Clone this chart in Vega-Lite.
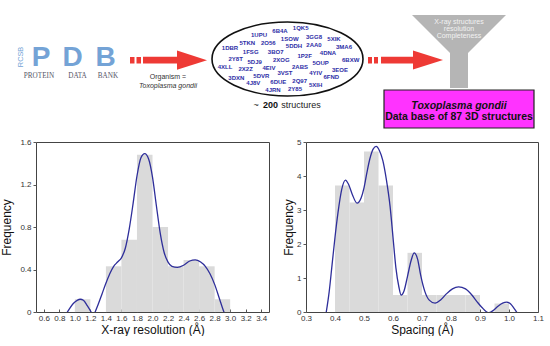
{
"$schema": "https://vega.github.io/schema/vega-lite/v6.json",
"padding": 0,
"background": "white",
"spacing": 7,
"config": {"view": {"stroke": null}, "font": "Liberation Sans",
  "axis": {"labelFont": "Liberation Sans", "titleFont": "Liberation Sans", "labelFontSize": 8, "titleFontSize": 12, "titleFontWeight": "normal", "labelColor": "#333", "titleColor": "#111", "tickColor": "#555", "domain": false, "grid": false, "labelOverlap": false, "labelBound": false, "labelFlush": false}},
"datasets": {
  "funnel": [{"y":15,"x":408,"x2":502},{"y":53,"x":446,"x2":464},{"y":88,"x":446,"x2":464}],
  "redRects": [{"x":126,"x2":130.5,"y":57,"y2":63.5},{"x":132.5,"x2":137,"y":57,"y2":63.5},{"x":139,"x2":176,"y":56.8,"y2":63.4},{"x":364,"x2":368,"y":57,"y2":63.5},{"x":370,"x2":374,"y":57,"y2":63.5},{"x":377,"x2":412,"y":56.8,"y2":63.4}],
  "heads": [{"x":188,"y":60.2},{"x":424,"y":60}],
  "ellipse": [{"x":283.5,"y":59}],
  "box": [{"x":380,"x2":530,"y":90,"y2":128}],
  "logo": [{"t":"P","x":37,"y":66},{"t":"D","x":68.5,"y":66},{"t":"B","x":101.5,"y":66}],
  "codes": [
{"t":"6B4A","x":276,"y":30.7},{"t":"1QK5","x":296.7,"y":28.3},{"t":"1UPU","x":255,"y":35},{"t":"1SOW","x":285.7,"y":39},{"t":"3GG8","x":310,"y":37.3},{"t":"5XIK","x":330,"y":39},{"t":"1DBR","x":226,"y":48.3},{"t":"5TKN","x":243.3,"y":43.3},{"t":"2O56","x":264.3,"y":43.3},{"t":"5DDH","x":290,"y":46},{"t":"2AA0","x":310,"y":45},{"t":"3MA6","x":340,"y":47.3},{"t":"1FSG","x":246.7,"y":52.3},{"t":"3BO7","x":271.7,"y":52.3},{"t":"1P2F","x":300.7,"y":55.7},{"t":"4DNA","x":324,"y":53.3},{"t":"2Y8T","x":231.7,"y":59},{"t":"5DJ9","x":250.7,"y":61.7},{"t":"2XOG","x":277.3,"y":60},{"t":"5OUP","x":316.7,"y":62.7},{"t":"6BXW","x":346.7,"y":60},{"t":"4XLL","x":221,"y":66.7},{"t":"2X2Z","x":241.7,"y":69},{"t":"4EIV","x":265,"y":67.7},{"t":"2ABS","x":296,"y":67.3},{"t":"4YIV","x":311.7,"y":73.3},{"t":"3EOE","x":336,"y":70},{"t":"5DVR","x":257.3,"y":75.7},{"t":"3VST","x":281,"y":73.3},{"t":"6FND","x":327.3,"y":77.3},{"t":"3DXN","x":232.3,"y":78.3},{"t":"4J8V","x":249.3,"y":83.3},{"t":"6DUE","x":274.3,"y":82.3},{"t":"2Q97","x":295.7,"y":80.7},{"t":"5XIH","x":311.7,"y":85},{"t":"4JRN","x":269,"y":90},{"t":"2Y85","x":291,"y":89}],
  "leftBins": [{"x":1.0,"x2":1.2,"y":0.12},{"x":1.4,"x2":1.6,"y":0.43},{"x":1.6,"x2":1.8,"y":0.68},{"x":1.8,"x2":2.0,"y":1.48},{"x":2.0,"x2":2.2,"y":0.80},{"x":2.2,"x2":2.4,"y":0.43},{"x":2.4,"x2":2.6,"y":0.49},{"x":2.6,"x2":2.8,"y":0.43},{"x":2.8,"x2":3.0,"y":0.12}],
  "leftCurve": [
{"seg":1,"x":0.88,"y":-0.03},{"seg":1,"x":0.93,"y":0.03},{"seg":1,"x":0.98,"y":0.08},{"seg":1,"x":1.03,"y":0.11},{"seg":1,"x":1.07,"y":0.12},{"seg":1,"x":1.11,"y":0.11},{"seg":1,"x":1.16,"y":0.06},{"seg":1,"x":1.21,"y":0.0},{"seg":1,"x":1.24,"y":-0.04},
{"seg":2,"x":1.25,"y":-0.02},{"seg":2,"x":1.3,"y":0.07},{"seg":2,"x":1.35,"y":0.17},{"seg":2,"x":1.4,"y":0.27},{"seg":2,"x":1.45,"y":0.36},{"seg":2,"x":1.5,"y":0.43},{"seg":2,"x":1.55,"y":0.47},{"seg":2,"x":1.6,"y":0.51},{"seg":2,"x":1.65,"y":0.6},{"seg":2,"x":1.7,"y":0.78},{"seg":2,"x":1.75,"y":1.02},{"seg":2,"x":1.8,"y":1.28},{"seg":2,"x":1.85,"y":1.45},{"seg":2,"x":1.9,"y":1.49},{"seg":2,"x":1.95,"y":1.44},{"seg":2,"x":2.0,"y":1.27},{"seg":2,"x":2.05,"y":1.0},{"seg":2,"x":2.1,"y":0.74},{"seg":2,"x":2.15,"y":0.56},{"seg":2,"x":2.2,"y":0.47},{"seg":2,"x":2.25,"y":0.43},{"seg":2,"x":2.32,"y":0.42},{"seg":2,"x":2.4,"y":0.44},{"seg":2,"x":2.48,"y":0.48},{"seg":2,"x":2.55,"y":0.49},{"seg":2,"x":2.62,"y":0.47},{"seg":2,"x":2.68,"y":0.43},{"seg":2,"x":2.74,"y":0.36},{"seg":2,"x":2.8,"y":0.26},{"seg":2,"x":2.86,"y":0.13},{"seg":2,"x":2.92,"y":0.0},{"seg":2,"x":2.95,"y":-0.05}],
  "rightBins": [{"x":0.4,"x2":0.45,"y":3.72},{"x":0.45,"x2":0.5,"y":3.22},{"x":0.5,"x2":0.55,"y":4.72},{"x":0.55,"x2":0.6,"y":3.72},{"x":0.6,"x2":0.65,"y":0.5},{"x":0.65,"x2":0.7,"y":1.74},{"x":0.7,"x2":0.75,"y":0.5},{"x":0.75,"x2":0.8,"y":0.5},{"x":0.8,"x2":0.85,"y":0.5},{"x":0.85,"x2":0.9,"y":0.5},{"x":0.95,"x2":1.0,"y":0.25}],
  "rightCurve": [
{"x":0.368,"y":-0.1},{"x":0.38,"y":0.6},{"x":0.39,"y":1.4},{"x":0.4,"y":2.2},{"x":0.41,"y":2.9},{"x":0.423,"y":3.6},{"x":0.436,"y":3.88},{"x":0.447,"y":3.75},{"x":0.46,"y":3.45},{"x":0.476,"y":3.2},{"x":0.49,"y":3.35},{"x":0.5,"y":3.65},{"x":0.51,"y":4.1},{"x":0.52,"y":4.5},{"x":0.532,"y":4.8},{"x":0.542,"y":4.87},{"x":0.553,"y":4.75},{"x":0.565,"y":4.45},{"x":0.577,"y":3.9},{"x":0.59,"y":3.1},{"x":0.6,"y":2.2},{"x":0.61,"y":1.3},{"x":0.62,"y":0.75},{"x":0.628,"y":0.5},{"x":0.638,"y":0.62},{"x":0.65,"y":1.05},{"x":0.662,"y":1.5},{"x":0.673,"y":1.74},{"x":0.685,"y":1.55},{"x":0.695,"y":1.1},{"x":0.71,"y":0.6},{"x":0.725,"y":0.35},{"x":0.745,"y":0.26},{"x":0.765,"y":0.36},{"x":0.785,"y":0.54},{"x":0.805,"y":0.68},{"x":0.826,"y":0.74},{"x":0.85,"y":0.68},{"x":0.872,"y":0.5},{"x":0.89,"y":0.3},{"x":0.906,"y":0.14},{"x":0.93,"y":-0.02},{"x":0.945,"y":0.04},{"x":0.962,"y":0.17},{"x":0.978,"y":0.26},{"x":0.992,"y":0.29},{"x":1.005,"y":0.24},{"x":1.018,"y":0.1},{"x":1.03,"y":-0.05}]
},
"vconcat": [
 {"width": 518, "height": 130,
  "layer": [
   {"data": {"name": "funnel"}, "mark": {"type": "area", "orient": "horizontal", "color": "#b5b5b5"},
    "encoding": {"y": {"field": "y", "type": "quantitative", "scale": {"domain": [0,130], "nice": false, "zero": false, "reverse": true}, "axis": null},
                 "x": {"field": "x", "type": "quantitative", "scale": {"domain": [32,550], "nice": false, "zero": false}, "axis": null},
                 "x2": {"field": "x2"}}},
   {"data": {"name": "redRects"}, "mark": {"type": "rect", "color": "#ee3a35"},
    "encoding": {"x": {"field": "x", "type": "quantitative", "axis": null}, "x2": {"field": "x2"},
                 "y": {"field": "y", "type": "quantitative", "axis": null}, "y2": {"field": "y2"}}},
   {"data": {"name": "heads"}, "mark": {"type": "point", "shape": "M -1 -0.64 L 1 0 L -1 0.64 Z", "size": 900, "filled": true, "color": "#ee3a35", "opacity": 1, "strokeWidth": 0},
    "encoding": {"x": {"field": "x", "type": "quantitative", "axis": null}, "y": {"field": "y", "type": "quantitative", "axis": null}}},
   {"data": {"name": "ellipse"}, "mark": {"type": "point", "shape": "M -1 0 A 1 0.49 0 1 1 1 0 A 1 0.49 0 1 1 -1 0 Z", "size": 22801, "filled": false, "stroke": "#111", "strokeWidth": 1.6, "opacity": 1},
    "encoding": {"x": {"field": "x", "type": "quantitative", "axis": null}, "y": {"field": "y", "type": "quantitative", "axis": null}}},
   {"data": {"name": "box"}, "mark": {"type": "rect", "fill": "#ff33ff", "stroke": "#222", "strokeWidth": 1.2},
    "encoding": {"x": {"field": "x", "type": "quantitative", "axis": null}, "x2": {"field": "x2"},
                 "y": {"field": "y", "type": "quantitative", "axis": null}, "y2": {"field": "y2"}}},
   {"data": {"name": "codes"}, "mark": {"type": "text", "font": "Liberation Sans", "fontWeight": "bold", "fontSize": 6, "color": "#2d2da6", "baseline": "middle", "align": "center"},
    "encoding": {"x": {"field": "x", "type": "quantitative", "axis": null}, "y": {"field": "y", "type": "quantitative", "axis": null}, "text": {"field": "t"}}},
   {"data": {"name": "logo"},
    "mark": {"type": "text", "font": "Liberation Sans", "fontWeight": "bold", "fontSize": 28, "color": "#74a3d6", "baseline": "alphabetic", "align": "center"},
    "encoding": {"x": {"field": "x", "type": "quantitative", "axis": null}, "y": {"field": "y", "type": "quantitative", "axis": null}, "text": {"field": "t"}}},
   {"data": {"values": [{"t":"RCSB","x":17,"y":57}]},
    "mark": {"type": "text", "font": "Liberation Sans", "fontSize": 7.3, "angle": 270, "color": "#74a3d6", "baseline": "middle", "align": "center"},
    "encoding": {"x": {"field": "x", "type": "quantitative", "axis": null}, "y": {"field": "y", "type": "quantitative", "axis": null}, "text": {"field": "t"}}},
   {"data": {"values": [{"t":"PROTEIN","x":35,"y":77.5},{"t":"DATA","x":73.5,"y":77.5},{"t":"BANK","x":104,"y":77.5}]},
    "mark": {"type": "text", "font": "Liberation Serif", "fontSize": 7.2, "color": "#555566", "baseline": "alphabetic", "align": "center"},
    "encoding": {"x": {"field": "x", "type": "quantitative", "axis": null}, "y": {"field": "y", "type": "quantitative", "axis": null}, "text": {"field": "t"}}},
   {"data": {"values": [{"t":"Organism =","x":164,"y":79}]},
    "mark": {"type": "text", "font": "Liberation Sans", "fontSize": 7, "color": "#333", "baseline": "alphabetic", "align": "center"},
    "encoding": {"x": {"field": "x", "type": "quantitative", "axis": null}, "y": {"field": "y", "type": "quantitative", "axis": null}, "text": {"field": "t"}}},
   {"data": {"values": [{"t":"Toxoplasma gondii","x":164,"y":87.5}]},
    "mark": {"type": "text", "font": "Liberation Sans", "fontSize": 7, "fontStyle": "italic", "color": "#333", "baseline": "alphabetic", "align": "center"},
    "encoding": {"x": {"field": "x", "type": "quantitative", "axis": null}, "y": {"field": "y", "type": "quantitative", "axis": null}, "text": {"field": "t"}}},
   {"data": {"values": [{"t":"~","x":252,"y":107.5},{"t":"structures","x":297,"y":107.5}]},
    "mark": {"type": "text", "font": "Liberation Sans", "fontSize": 9, "color": "#222", "baseline": "alphabetic", "align": "center"},
    "encoding": {"x": {"field": "x", "type": "quantitative", "axis": null}, "y": {"field": "y", "type": "quantitative", "axis": null}, "text": {"field": "t"}}},
   {"data": {"values": [{"t":"200","x":266.5,"y":107.5}]},
    "mark": {"type": "text", "font": "Liberation Sans", "fontSize": 9, "fontWeight": "bold", "color": "#111", "baseline": "alphabetic", "align": "center"},
    "encoding": {"x": {"field": "x", "type": "quantitative", "axis": null}, "y": {"field": "y", "type": "quantitative", "axis": null}, "text": {"field": "t"}}},
   {"data": {"values": [{"t":"X-ray structures","x":455,"y":24},{"t":"resolution","x":455,"y":31},{"t":"Completeness","x":455,"y":38}]},
    "mark": {"type": "text", "font": "Liberation Sans", "fontSize": 7, "color": "#f2f2f2", "baseline": "alphabetic", "align": "center"},
    "encoding": {"x": {"field": "x", "type": "quantitative", "axis": null}, "y": {"field": "y", "type": "quantitative", "axis": null}, "text": {"field": "t"}}},
   {"data": {"values": [{"t":"Toxoplasma gondii","x":455,"y":108.5}]},
    "mark": {"type": "text", "font": "Liberation Sans", "fontSize": 10.5, "fontWeight": "bold", "fontStyle": "italic", "color": "#111", "baseline": "alphabetic", "align": "center"},
    "encoding": {"x": {"field": "x", "type": "quantitative", "axis": null}, "y": {"field": "y", "type": "quantitative", "axis": null}, "text": {"field": "t"}}},
   {"data": {"values": [{"t":"Data base of 87 3D structures","x":455,"y":120.3}]},
    "mark": {"type": "text", "font": "Liberation Sans", "fontSize": 10.5, "fontWeight": "bold", "color": "#111", "baseline": "alphabetic", "align": "center"},
    "encoding": {"x": {"field": "x", "type": "quantitative", "axis": null}, "y": {"field": "y", "type": "quantitative", "axis": null}, "text": {"field": "t"}}}
  ]},
 {"hconcat": [
   {"width": 233, "height": 170, "view": {"stroke": "#444", "strokeWidth": 1},
    "layer": [
     {"data": {"name": "leftBins"}, "mark": {"type": "rect", "color": "#dadada"},
      "encoding": {
        "x": {"field": "x", "type": "quantitative", "title": "X-ray resolution (Å)", "scale": {"domain": [0.5,3.5], "nice": false, "zero": false},
              "axis": {"values": [0.6,0.8,1.0,1.2,1.4,1.6,1.8,2.0,2.2,2.4,2.6,2.8,3.0,3.2,3.4], "format": ".1f", "labelFlush": false, "labelOverlap": false, "tickSize": -3, "labelPadding": 5, "titlePadding": 2}},
        "x2": {"field": "x2"},
        "y": {"field": "y", "type": "quantitative", "title": "Frequency", "scale": {"domain": [0,1.6], "nice": false},
              "axis": {"values": [0,0.4,0.8,1.2,1.6], "format": "~g", "labelOverlap": false, "tickSize": 3, "labelPadding": 2, "titlePadding": 6}},
        "y2": {"datum": 0}}},
     {"data": {"name": "leftCurve"}, "mark": {"type": "line", "color": "#2e2e9a", "strokeWidth": 1.3, "interpolate": "monotone", "clip": true},
      "encoding": {
        "x": {"field": "x", "type": "quantitative", "title": "X-ray resolution (Å)",
              "axis": {"values": [0.6,0.8,1.0,1.2,1.4,1.6,1.8,2.0,2.2,2.4,2.6,2.8,3.0,3.2,3.4], "format": ".1f", "labelFlush": false, "labelOverlap": false, "tickSize": -3, "labelPadding": 5, "titlePadding": 2}},
        "y": {"field": "y", "type": "quantitative", "title": "Frequency",
              "axis": {"values": [0,0.4,0.8,1.2,1.6], "format": "~g", "labelOverlap": false, "tickSize": 3, "labelPadding": 2, "titlePadding": 6}},
        "detail": {"field": "seg"}}}
    ]},
   {"width": 232, "height": 170, "view": {"stroke": "#444", "strokeWidth": 1},
    "layer": [
     {"data": {"name": "rightBins"}, "mark": {"type": "rect", "color": "#dadada"},
      "encoding": {
        "x": {"field": "x", "type": "quantitative", "title": "Spacing (Å)", "scale": {"domain": [0.3,1.1], "nice": false, "zero": false},
              "axis": {"values": [0.3,0.4,0.5,0.6,0.7,0.8,0.9,1.0,1.1], "format": ".1f", "labelFlush": false, "labelOverlap": false, "tickSize": -3, "labelPadding": 5, "titlePadding": 2}},
        "x2": {"field": "x2"},
        "y": {"field": "y", "type": "quantitative", "title": "Frequency", "scale": {"domain": [0,5], "nice": false},
              "axis": {"values": [0,1,2,3,4,5], "format": "~g", "labelOverlap": false, "tickSize": 3, "labelPadding": 2, "titlePadding": 1}},
        "y2": {"datum": 0}}},
     {"data": {"name": "rightCurve"}, "mark": {"type": "line", "color": "#2e2e9a", "strokeWidth": 1.3, "interpolate": "monotone", "clip": true},
      "encoding": {
        "x": {"field": "x", "type": "quantitative", "title": "Spacing (Å)",
              "axis": {"values": [0.3,0.4,0.5,0.6,0.7,0.8,0.9,1.0,1.1], "format": ".1f", "labelFlush": false, "labelOverlap": false, "tickSize": -3, "labelPadding": 5, "titlePadding": 2}},
        "y": {"field": "y", "type": "quantitative", "title": "Frequency",
              "axis": {"values": [0,1,2,3,4,5], "format": "~g", "labelOverlap": false, "tickSize": 3, "labelPadding": 2, "titlePadding": 1}}}}
    ]}
  ], "spacing": 12}
]
}
